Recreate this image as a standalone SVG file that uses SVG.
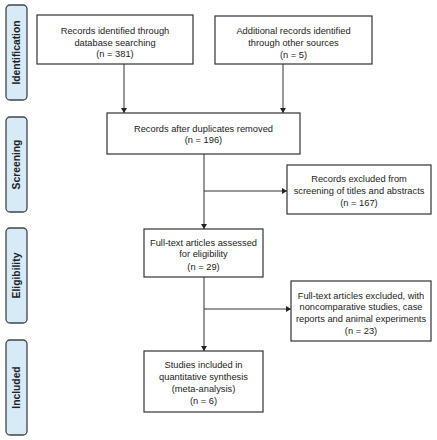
<svg xmlns="http://www.w3.org/2000/svg" width="437" height="440" viewBox="0 0 437 440">
<defs>
<marker id="ah" markerWidth="6" markerHeight="6" refX="5" refY="3" orient="auto" markerUnits="userSpaceOnUse">
<path d="M0,0 L5,3 L0,6 Z" fill="#222"/>
</marker>
<style>
.box{fill:#fff;stroke:#333;stroke-width:1.2}
.side{fill:#d6eaf8;stroke:#444;stroke-width:1.3}
.t{font-family:"Liberation Sans",Arial,sans-serif;font-size:9.3px;fill:#222;text-anchor:middle}
.s{font-family:"Liberation Sans",Arial,sans-serif;font-size:10.3px;font-weight:bold;fill:#222;text-anchor:middle}
.c{fill:none;stroke:#333;stroke-width:1}
</style>
</defs>
<rect width="437" height="440" fill="#fff"/>
<g id="side-identification"><rect class="side" x="6" y="5" width="21" height="95" rx="4"/><text class="s" transform="translate(20,52.5) rotate(-90)">Identification</text></g>
<g id="side-screening"><rect class="side" x="6" y="117" width="21" height="95" rx="4"/><text class="s" transform="translate(20,164.5) rotate(-90)">Screening</text></g>
<g id="side-eligibility"><rect class="side" x="6" y="228" width="21" height="95" rx="4"/><text class="s" transform="translate(20,275.5) rotate(-90)">Eligibility</text></g>
<g id="side-included"><rect class="side" x="6" y="340" width="21" height="95" rx="4"/><text class="s" transform="translate(20,387.5) rotate(-90)">Included</text></g>
<g id="connectors">
<line class="c" x1="124" y1="64" x2="124" y2="113" marker-end="url(#ah)"/>
<line class="c" x1="283" y1="64" x2="283" y2="113" marker-end="url(#ah)"/>
<line class="c" x1="204" y1="154" x2="204" y2="229" marker-end="url(#ah)"/>
<line class="c" x1="204" y1="191" x2="287" y2="191" marker-end="url(#ah)"/>
<line class="c" x1="204" y1="277" x2="204" y2="351" marker-end="url(#ah)"/>
<line class="c" x1="204" y1="309" x2="291" y2="309" marker-end="url(#ah)"/>
</g>
<g id="records-database"><rect class="box" x="37" y="15" width="156" height="49"/>
<text class="t" x="115" y="33.5">Records identified through</text><text class="t" x="115" y="45.5">database searching</text><text class="t" x="115" y="57">(n = 381)</text></g>
<g id="records-other"><rect class="box" x="215" y="16" width="157" height="48"/>
<text class="t" x="293.5" y="33.5">Additional records identified</text><text class="t" x="293.5" y="45.5">through other sources</text><text class="t" x="293.5" y="57.5">(n = 5)</text></g>
<g id="records-dedup"><rect class="box" x="107" y="113" width="193" height="41"/>
<text class="t" x="203.5" y="131.5">Records after duplicates removed</text><text class="t" x="203.5" y="142.5">(n = 196)</text></g>
<g id="records-excluded"><rect class="box" x="287" y="165" width="144" height="49"/>
<text class="t" x="359" y="181.5">Records excluded from</text><text class="t" x="359" y="193.5">screening of titles and abstracts</text><text class="t" x="359" y="205.5">(n = 167)</text></g>
<g id="fulltext-assessed"><rect class="box" x="144" y="229" width="119" height="48"/>
<text class="t" x="203.5" y="245.5">Full-text articles assessed</text><text class="t" x="203.5" y="257">for eligibility</text><text class="t" x="203.5" y="269.5">(n = 29)</text></g>
<g id="fulltext-excluded"><rect class="box" x="291" y="281" width="140" height="60"/>
<text class="t" x="361" y="298.5">Full-text articles excluded, with</text><text class="t" x="361" y="310">noncomparative studies, case</text><text class="t" x="361" y="322">reports and animal experiments</text><text class="t" x="361" y="333.5">(n = 23)</text></g>
<g id="studies-included"><rect class="box" x="144" y="351" width="119" height="61"/>
<text class="t" x="203.5" y="367.5">Studies included in</text><text class="t" x="203.5" y="379.5">quantitative synthesis</text><text class="t" x="203.5" y="391.5">(meta-analysis)</text><text class="t" x="203.5" y="403.5">(n = 6)</text></g>
</svg>
